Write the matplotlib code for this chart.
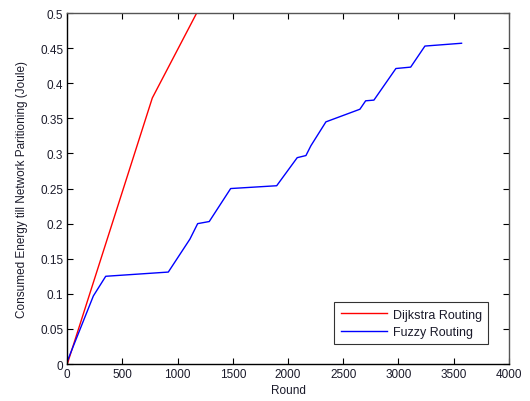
import matplotlib
matplotlib.use("Agg")
import matplotlib.pyplot as plt

# Consumed energy (Joule) versus round for the two routing schemes
dijkstra_rounds = [0, 770, 1172]
dijkstra_energy = [0.0, 0.379, 0.5]

fuzzy_rounds = [0, 236, 348, 915, 1111, 1181, 1286, 1480, 1897, 2083, 2162,
                2207, 2343, 2651, 2703, 2778, 2977, 3111, 3240, 3572]
fuzzy_energy = [0.004, 0.097, 0.125, 0.131, 0.178, 0.200, 0.203, 0.250, 0.254,
                0.294, 0.297, 0.311, 0.345, 0.363, 0.375, 0.376, 0.421, 0.423,
                0.453, 0.457]

x_ticks = [0, 500, 1000, 1500, 2000, 2500, 3000, 3500, 4000]
y_ticks = [0, 0.05, 0.1, 0.15, 0.2, 0.25, 0.3, 0.35, 0.4, 0.45, 0.5]
y_tick_labels = ["0", "0.05", "0.1", "0.15", "0.2", "0.25", "0.3", "0.35",
                 "0.4", "0.45", "0.5"]

plt.rcParams['font.family'] = ['Liberation Sans', 'DejaVu Sans']

fig = plt.figure(figsize=(5.30, 4.02), dpi=100)
ax = fig.add_axes([0.127, 0.092, 0.833, 0.873])

ax.plot(dijkstra_rounds, dijkstra_energy, color='#ff0000', lw=1.0,
        label='Dijkstra Routing')
ax.plot(fuzzy_rounds, fuzzy_energy, color='#0000ff', lw=1.0,
        label='Fuzzy Routing')

ax.set_xlim(0, 4000)
ax.set_ylim(0, 0.5)
ax.set_xticks(x_ticks)
ax.set_yticks(y_ticks)
ax.set_yticklabels(y_tick_labels)
ax.tick_params(direction='in', top=True, right=True, length=4, width=0.8,
               labelsize=8.5, labelcolor='#1a1a2a', pad=3)

for side in ('left', 'bottom'):
    ax.spines[side].set_color('#000000')
for side in ('top', 'right'):
    ax.spines[side].set_color('#555555')
for s in ax.spines.values():
    s.set_linewidth(1.0)

ax.set_xlabel('Round', fontsize=8.5, color='#1a1a2a', labelpad=3)
ax.set_ylabel('Consumed Energy till Network Paritioning (Joule)', fontsize=8.5,
              color='#1a1a2a', labelpad=9)

leg = ax.legend(loc='lower right', bbox_to_anchor=(0.968, 0.038), fontsize=9,
                frameon=True, fancybox=False, handlelength=3.7,
                borderpad=0.5, labelspacing=0.45, handletextpad=0.5)
leg.get_frame().set_edgecolor('#000000')
leg.get_frame().set_linewidth(0.8)
for t in leg.get_texts():
    t.set_color('#1a1a2a')

fig.savefig('out.png', dpi=100)
